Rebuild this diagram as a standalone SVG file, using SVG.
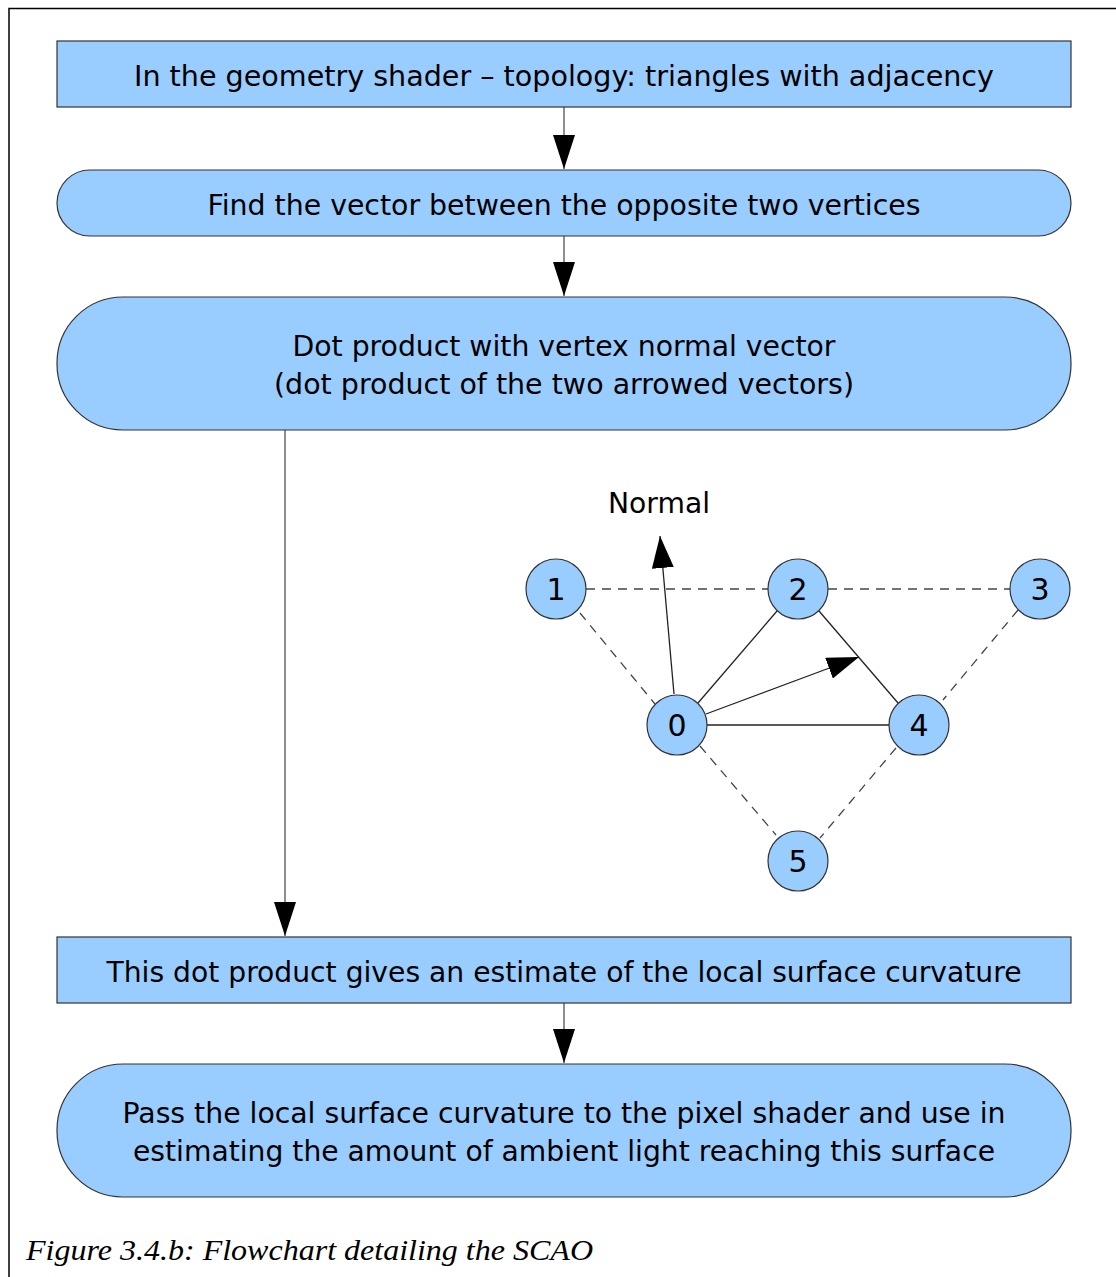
<svg xmlns="http://www.w3.org/2000/svg" width="1116" height="1277" viewBox="0 0 1116 1277">
  <style>
    .box { fill: #99ccff; stroke: #333; stroke-width: 1.2; }
    .lbl { font-family: "DejaVu Sans", Verdana, sans-serif; font-size: 28px; fill: #000; text-anchor: middle; }
    .num { font-family: "DejaVu Sans", Verdana, sans-serif; font-size: 30px; fill: #000; text-anchor: middle; }
    .flow { stroke: #444; stroke-width: 1.2; fill: none; }
    .edge { stroke: #222; stroke-width: 1.3; fill: none; }
    .dash { stroke: #444; stroke-width: 1.3; fill: none; stroke-dasharray: 9 7; }
    .cap { font-family: "Liberation Serif", "Times New Roman", serif; font-style: italic; font-size: 30px; fill: #000; }
  </style>
  <defs>
    <marker id="head" viewBox="0 0 34 22" refX="34" refY="11" markerWidth="34" markerHeight="22" markerUnits="userSpaceOnUse" orient="auto">
      <path d="M0,0 L34,11 L0,22 Z" fill="#000"/>
    </marker>
    <marker id="tip" viewBox="0 0 32 22" refX="32" refY="11" markerWidth="32" markerHeight="22" markerUnits="userSpaceOnUse" orient="auto">
      <path d="M0,0 L32,11 L0,22 Z" fill="#000"/>
    </marker>
  </defs>
  <rect width="1116" height="1277" fill="#fff"/>
  <!-- page frame -->
  <path d="M9,1277 V8.5 H1116" fill="none" stroke="#000" stroke-width="1.5"/>

  <g id="connectors">
    <line class="flow" x1="564" y1="107" x2="564" y2="169" marker-end="url(#head)"/>
    <line class="flow" x1="564" y1="236" x2="564" y2="296" marker-end="url(#head)"/>
    <line class="flow" x1="285" y1="430" x2="285" y2="936" marker-end="url(#head)"/>
    <line class="flow" x1="564" y1="1003" x2="564" y2="1063" marker-end="url(#head)"/>
    <!-- adjacency mesh -->
    <line class="dash" x1="586" y1="589" x2="768" y2="589"/>
    <line class="dash" x1="828" y1="589" x2="1010" y2="589"/>
    <line class="dash" x1="580" y1="613" x2="655" y2="704"/>
    <line class="dash" x1="1018" y1="610" x2="943" y2="700"/>
    <line class="dash" x1="700" y1="746" x2="776" y2="835"/>
    <line class="dash" x1="896" y1="748" x2="820" y2="838"/>
    <line class="edge" x1="698" y1="703" x2="777" y2="611"/>
    <line class="edge" x1="819" y1="611" x2="898" y2="703"/>
    <line class="edge" x1="707" y1="725" x2="889" y2="725"/>
    <line class="edge" x1="674" y1="694" x2="660" y2="536" marker-end="url(#tip)"/>
    <line class="edge" x1="706" y1="714" x2="859" y2="657" marker-end="url(#tip)"/>
  </g>

  <g id="step-topology">
    <rect class="box" x="57" y="41" width="1014" height="66"/>
    <text class="lbl" x="564" y="86" textLength="860" lengthAdjust="spacingAndGlyphs">In the geometry shader – topology: triangles with adjacency</text>
  </g>
  <g id="step-vector">
    <rect class="box" x="57" y="170" width="1014" height="66" rx="33" ry="33"/>
    <text class="lbl" x="564" y="215" textLength="713" lengthAdjust="spacingAndGlyphs">Find the vector between the opposite two vertices</text>
  </g>
  <g id="step-dot">
    <rect class="box" x="57" y="297" width="1014" height="133" rx="66" ry="66"/>
    <text class="lbl" x="564" y="356" textLength="543" lengthAdjust="spacingAndGlyphs">Dot product with vertex normal vector</text>
    <text class="lbl" x="564" y="394" textLength="580" lengthAdjust="spacingAndGlyphs">(dot product of the two arrowed vectors)</text>
  </g>
  <g id="step-estimate">
    <rect class="box" x="57" y="937" width="1014" height="66"/>
    <text class="lbl" x="564" y="982" textLength="915" lengthAdjust="spacingAndGlyphs">This dot product gives an estimate of the local surface curvature</text>
  </g>
  <g id="step-pass">
    <rect class="box" x="57" y="1064" width="1014" height="133" rx="66" ry="66"/>
    <text class="lbl" x="564" y="1123" textLength="883" lengthAdjust="spacingAndGlyphs">Pass the local surface curvature to the pixel shader and use in</text>
    <text class="lbl" x="564" y="1161" textLength="862" lengthAdjust="spacingAndGlyphs">estimating the amount of ambient light reaching this surface</text>
  </g>

  <g id="normal-label">
    <text class="lbl" x="659" y="513" textLength="102" lengthAdjust="spacingAndGlyphs">Normal</text>
  </g>
  <g id="v1"><circle class="box" cx="556" cy="589" r="30"/><text class="num" x="556" y="600">1</text></g>
  <g id="v2"><circle class="box" cx="798" cy="589" r="30"/><text class="num" x="798" y="600">2</text></g>
  <g id="v3"><circle class="box" cx="1040" cy="589" r="30"/><text class="num" x="1040" y="600">3</text></g>
  <g id="v0"><circle class="box" cx="677" cy="725" r="30"/><text class="num" x="677" y="736">0</text></g>
  <g id="v4"><circle class="box" cx="919" cy="725" r="30"/><text class="num" x="919" y="736">4</text></g>
  <g id="v5"><circle class="box" cx="798" cy="861" r="30"/><text class="num" x="798" y="872">5</text></g>

  <text class="cap" x="26" y="1260" textLength="567" lengthAdjust="spacingAndGlyphs">Figure 3.4.b: Flowchart detailing the SCAO</text>
</svg>
